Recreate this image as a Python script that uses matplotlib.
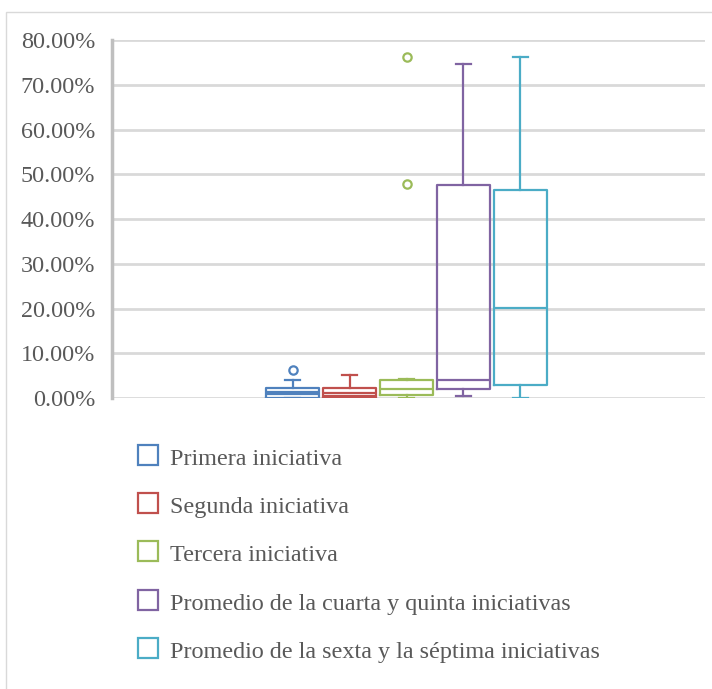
import matplotlib.pyplot as plt
from matplotlib.patches import Rectangle
from matplotlib.ticker import FuncFormatter

plt.rcParams['font.family'] = ['Liberation Serif', 'DejaVu Serif']

# Box statistics (fractions)
labels = ['Primera iniciativa', 'Segunda iniciativa', 'Tercera iniciativa',
          'Promedio de la cuarta y quinta iniciativas',
          'Promedio de la sexta y la séptima iniciativas']
colors = ['#4F81BD', '#C0504D', '#9BBB59', '#8064A2', '#4BACC6']
whislo = [0.000, 0.000, 0.000, 0.004, 0.000]
q1 = [0.000, 0.000, 0.006, 0.020, 0.028]
med = [0.008, 0.0045, 0.019, 0.040, 0.202]
mean = [0.013, 0.012, 0.019, 0.040, 0.202]
q3 = [0.022, 0.023, 0.041, 0.475, 0.464]
whishi = [0.041, 0.052, 0.043, 0.746, 0.761]
fliers = [[0.062], [], [0.478, 0.762], [], []]

yticks = [0, 0.1, 0.2, 0.3, 0.4, 0.5, 0.6, 0.7, 0.8]

fig = plt.figure(figsize=(7.12, 6.89), dpi=100)
W, H = 712, 689
ax = fig.add_axes([112 / W, 1 - 398 / H, (705 - 112) / W, (398 - 40) / H])

# outer chart frame
fig.patches.append(Rectangle((6 / W, -0.05), 1.1, 1 + 0.05 - 11.5 / H,
                             transform=fig.transFigure, fill=False,
                             edgecolor='#D9D9D9', lw=1))

stats = []
for i in range(len(labels)):
    stats.append(dict(whislo=whislo[i], q1=q1[i], med=med[i], mean=mean[i],
                      q3=q3[i], whishi=whishi[i], fliers=fliers[i]))

positions = [1, 2, 3, 4, 5]
for i, s in enumerate(stats):
    c = colors[i]
    ax.bxp([s], positions=[positions[i]], widths=0.92, capwidths=0.27,
           showmeans=(mean[i] != med[i]), meanline=True, patch_artist=False,
           boxprops=dict(color=c, lw=1.6),
           medianprops=dict(color=c, lw=1.6),
           meanprops=dict(color=c, lw=1.6, ls='-'),
           whiskerprops=dict(color=c, lw=1.6),
           capprops=dict(color=c, lw=1.6),
           flierprops=dict(marker='o', markerfacecolor='none',
                           markeredgecolor=c, markersize=6, markeredgewidth=1.6),
           zorder=3)

ax.set_xlim(-2.17, 8.24)
ax.set_ylim(0, 0.8)
ax.set_yticks(yticks)
ax.yaxis.set_major_formatter(FuncFormatter(lambda v, p: f'{v * 100:.2f}%'))
ax.set_xticks([])
ax.tick_params(axis='y', length=0, pad=12, labelsize=17.4, labelcolor='#595959')
ax.grid(axis='y', color='#D9D9D9', lw=2)
ax.set_axisbelow(True)
for side in ['top', 'right', 'bottom']:
    ax.spines[side].set_visible(False)
ax.spines['left'].set_color('#BFBFBF')
ax.spines['left'].set_linewidth(2.5)

# legend below the plot
row_y = [455, 503, 551, 600, 648]
for i, lab in enumerate(labels):
    y = row_y[i]
    fig.patches.append(Rectangle((138 / W, 1 - (y + 10) / H), 20 / W, 20 / H,
                                 transform=fig.transFigure, fill=False,
                                 edgecolor=colors[i], lw=1.6))
    fig.text(170 / W, 1 - (y + 10) / H, lab, fontsize=17.4, color='#595959',
             va='baseline', ha='left')

fig.savefig('out.png', dpi=100)
